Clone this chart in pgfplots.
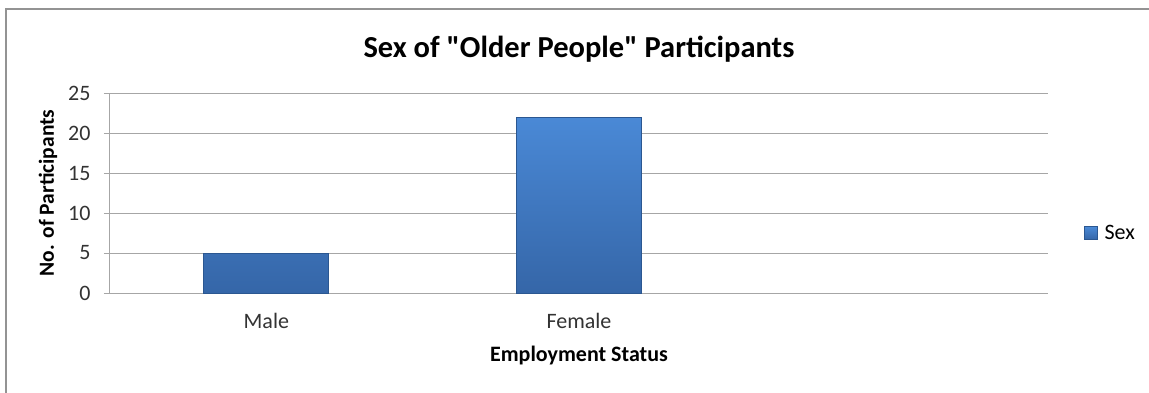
\documentclass[border=0pt]{standalone}
\usepackage{pgfplots}
\pgfplotsset{compat=1.18}
\usepackage{fontspec}
\setmainfont{Carlito}[Ligatures=TeXOff]
\definecolor{gridgray}{HTML}{A6A6A6}
\definecolor{bartop}{HTML}{4A89D6}
\definecolor{barbot}{HTML}{3566A8}
\definecolor{baredge}{HTML}{2B5791}
\begin{document}
\begin{tikzpicture}[x=1pt,y=1pt]
\useasboundingbox (0,0) rectangle (1149,392);
\clip (0,0) rectangle (1149,392);
\fill[white] (0,0) rectangle (1149,392);
\draw[line width=2pt, color=gray!85] (6,-10) rectangle (1160,383);
\begin{axis}[
  at={(110pt,99pt)}, anchor=south west,
  width=938pt, height=200pt, scale only axis,
  xmin=0.5, xmax=3.5, ymin=0, ymax=25,
  axis x line=bottom, axis y line=left,
  axis line style={gridgray, line width=1pt, -},
  xtick={1,2}, xticklabels={Male,Female},
  x tick style={draw=none},
  ytick={0,5,10,15,20,25},
  y tick style={gridgray, line width=1pt},
  tick align=outside, major tick length=6pt,
  ymajorgrids, grid style={gridgray, line width=1pt},
  /pgf/number format/assume math mode=true,
  tick label style={font=\fontsize{22}{25}\selectfont, text=black!80},
  xticklabel style={yshift=-11pt},
  yticklabel style={xshift=-10pt},
  title={Sex of "Older People" Participants},
  title style={font=\bfseries\fontsize{30.5}{34}\selectfont, at={(axis description cs:0.5,1.19)}, anchor=center},
  xlabel={Employment Status},
  xlabel style={font=\bfseries\fontsize{22}{25}\selectfont, at={(axis description cs:0.5,-0.315)}, anchor=center},
  ylabel={No. of Participants},
  ylabel style={font=\bfseries\fontsize{21.5}{25}\selectfont, at={(axis description cs:-0.066,0.5)}, anchor=center, rotate=0},
  legend style={at={(axis description cs:1.038,0.3)}, anchor=west, draw=none, fill=none, font=\fontsize{22}{25}\selectfont, inner sep=0pt},
  legend image code/.code={\fill[bartop, draw=baredge] (0pt,-6.5pt) rectangle (13pt,6.5pt);},
  legend cell align=left,
]
\addplot[ybar, bar width=125pt, bar shift=0pt, draw=baredge, line width=0.8pt, top color=bartop, bottom color=barbot]
  coordinates {(1,5) (2,22)};
\addlegendentry{\hspace{5pt}Sex}
\end{axis}
\end{tikzpicture}
\end{document}
